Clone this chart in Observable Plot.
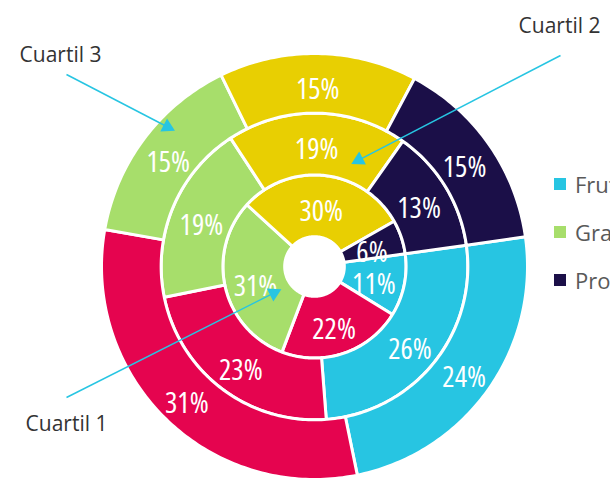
<!DOCTYPE html>
<html><head><meta charset="utf-8">
<script src="https://cdn.jsdelivr.net/npm/d3@7"></script>
<script src="https://cdn.jsdelivr.net/npm/@observablehq/plot@0.6"></script>
<style>
html,body{margin:0;padding:0;background:#fff;overflow:hidden;width:610px;height:480px;}
#wrap{position:relative;width:610px;height:480px;overflow:hidden;}
#legend{position:absolute;left:554px;top:171px;display:grid;grid-template-columns:130px 130px;row-gap:22px;font-family:"Open Sans",sans-serif;font-size:22px;color:#595959;}
#legend div{display:flex;align-items:center;height:26px;white-space:nowrap;}
#legend span.sw{display:inline-block;width:12px;height:12px;margin-right:9px;}
</style>
</head><body><div id="wrap"><div id="chart"></div><div id="legend"></div></div>
<script>
const categories = ["Frutas", "Verduras", "Granos", "Lácteos", "Proteínas"];
const colors = ["#27c5e2", "#e5044f", "#a7de6b", "#e8cf02", "#1b0f48"];
const quartiles = ["Cuartil 1", "Cuartil 2", "Cuartil 3"];
const cuartil1 = [11, 22, 31, 30, 6];
const cuartil2 = [26, 23, 19, 19, 13];
const cuartil3 = [24, 31, 15, 15, 15];

// layout (style)
const startAngle = 82;             // degrees clockwise from top
const radii = [0.14, 0.43, 0.72, 1.0];
const R = 213;                      // px per unit
const cx = 314, cy = 266;           // center in px

const series = [cuartil1, cuartil2, cuartil3];
const rad = a => a * Math.PI / 180;
const polar = (r, a) => ({x: r * Math.sin(rad(a)), y: r * Math.cos(rad(a))});

const pts = [], labels = [];
series.forEach((vals, ring) => {
  const total = d3.sum(vals);
  let acc = 0;
  vals.forEach((v, k) => {
    const a0 = startAngle + acc / total * 360;
    acc += v;
    const a1 = startAngle + acc / total * 360;
    const r0 = radii[ring], r1 = radii[ring + 1];
    const id = ring + "-" + k;
    const n = Math.max(2, Math.ceil(a1 - a0));
    for (let i = 0; i <= n; i++) pts.push({id, cat: categories[k], ...polar(r1, a0 + (a1 - a0) * i / n)});
    for (let i = n; i >= 0; i--) pts.push({id, cat: categories[k], ...polar(r0, a0 + (a1 - a0) * i / n)});
    labels.push({text: v + "%", ...polar((r0 + r1) / 2, (a0 + a1) / 2)});
  });
});

// annotations: label anchor (units), arrow start (units), arrow tip in polar
const toU = (px, py) => ({x: (px - cx) / R, y: (cy - py) / R});
const annotations = [
  {name: quartiles[2], label: toU(60, 55), start: toU(66, 74), tip: polar(0.925, 314)},
  {name: quartiles[1], label: toU(559, 26), start: toU(560, 55), tip: polar(0.52, 20.6)},
  {name: quartiles[0], label: toU(66, 424), start: toU(66, 397), tip: polar(0.2, 236)}
].map(d => {
  const dx = d.tip.x - d.start.x, dy = d.tip.y - d.start.y;
  const len = Math.hypot(dx, dy);
  const back = 6 / R;
  return {...d, rot: Math.atan2(dx, dy) * 180 / Math.PI,
    hx: d.tip.x - dx / len * back, hy: d.tip.y - dy / len * back,
    ex: d.tip.x - dx / len * back * 1.5, ey: d.tip.y - dy / len * back * 1.5};
});

const chart = Plot.plot({
  width: 610, height: 480, margin: 0,
  x: {domain: [-cx / R, (610 - cx) / R], axis: null},
  y: {domain: [-(480 - cy) / R, cy / R], axis: null},
  color: {domain: categories, range: colors},
  style: {fontFamily: "'Open Sans', sans-serif", background: "white"},
  marks: [
    Plot.line(pts, {x: "x", y: "y", z: "id", fill: "cat", stroke: "white", strokeWidth: 3, curve: "linear-closed"}),
    Plot.text(labels, {x: "x", y: "y", dy: 6, text: "text", fill: "white", fontSize: 29, fontWeight: 500}),
    Plot.link(annotations, {x1: d => d.start.x, y1: d => d.start.y, x2: "ex", y2: "ey", stroke: "#27c5e2", strokeWidth: 1.5}),
    Plot.dot(annotations, {x: "hx", y: "hy", symbol: "triangle2", r: 7, fill: "#27c5e2", rotate: "rot"}),
    Plot.text(annotations, {x: d => d.label.x, y: d => d.label.y, text: "name", fill: "#333", fontSize: 21})
  ]
});
const pctGroup = chart.querySelectorAll('g[aria-label="text"]')[0];
if (pctGroup) pctGroup.style.fontStretch = "85%";
document.getElementById("chart").appendChild(chart);

const legend = document.getElementById("legend");
categories.forEach((c, i) => {
  const el = document.createElement("div");
  el.innerHTML = `<span class="sw" style="background:${colors[i]}"></span>${c}`;
  legend.appendChild(el);
});
</script>
</body></html>
